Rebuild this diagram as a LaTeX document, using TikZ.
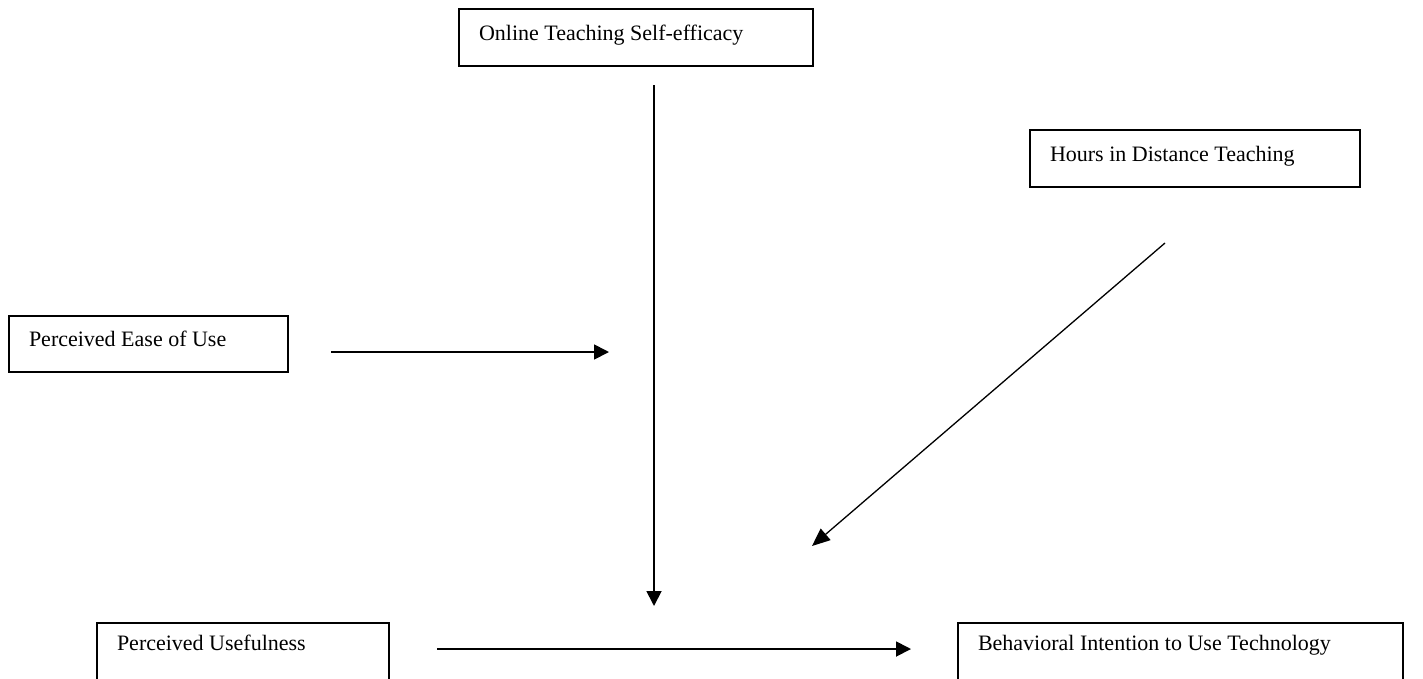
\documentclass[tikz,border=0pt]{standalone}
\usepackage{fontspec}
\setmainfont{Liberation Serif}
\usetikzlibrary{arrows.meta}
\begin{document}
\begin{tikzpicture}[x=1pt,y=-1pt,
  box/.style={draw=black,line width=2pt,anchor=north west,inner sep=0pt,
    font=\fontsize{22}{26}\selectfont,align=left,
    execute at begin node={\spaceskip=0pt\xspaceskip=0pt},
    text height=15pt,text depth=10pt},
  conn/.style={line width=1.8pt,-{Triangle[length=15pt,width=15pt]}},
  thin conn/.style={line width=1.3pt,-{Triangle[length=18pt,width=15pt]}}]
\useasboundingbox (0,0) rectangle (1423,678);
\clip (0,0) rectangle (1423,678);
\node[box,minimum width=354pt,minimum height=57pt,text width=314pt] (ots) at (458,8) {Online Teaching Self-efficacy};
\node[box,minimum width=330pt,minimum height=57pt,text width=290pt] (hdt) at (1029,129) {Hours in Distance Teaching};
\node[box,minimum width=279pt,minimum height=56pt,text width=239pt] (peu) at (8,315) {Perceived Ease of Use};
\node[box,minimum width=292pt,minimum height=60pt,text width=252pt,text height=27pt,text depth=34pt] (pu) at (96,622) {Perceived Usefulness};
\node[box,minimum width=445pt,minimum height=60pt,text width=405pt,text height=27pt,text depth=34pt] (bit) at (957,622) {Behavioral Intention to Use Technology};
\coordinate (v1) at (654,85);
\coordinate (v2) at (654,606);
\coordinate (h1) at (331,352);
\coordinate (h2) at (609,352);
\coordinate (d1) at (1165,243);
\coordinate (d2) at (812,546);
\coordinate (b1) at (437,649);
\coordinate (b2) at (911,649);
\draw[conn] (v1) -- (v2);
\draw[conn] (h1) -- (h2);
\draw[thin conn] (d1) -- (d2);
\draw[conn] (b1) -- (b2);
\end{tikzpicture}
\end{document}
